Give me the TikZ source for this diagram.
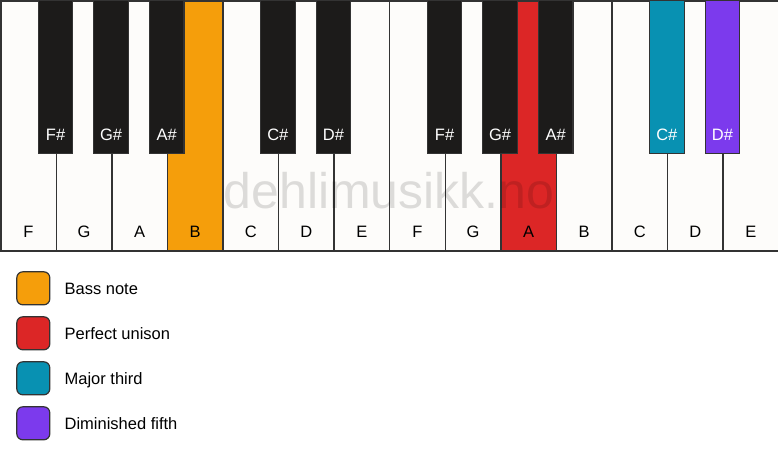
\documentclass[tikz,border=0pt]{standalone}
\usepackage{fontspec}
\setmainfont{Liberation Sans}
\usetikzlibrary{positioning}
\usetikzlibrary{calc}
\definecolor{keywhite}{HTML}{FDFCFA}
\definecolor{keyblack}{HTML}{1C1B1A}
\definecolor{keyline}{HTML}{333333}
\definecolor{bassnote}{HTML}{F59E0B}
\definecolor{unison}{HTML}{DC2626}
\definecolor{third}{HTML}{0891B2}
\definecolor{fifth}{HTML}{7C3AED}
\def\wkey{55.57}
\def\bkey{34.6}

\tikzset{
  whitekey/.style={draw=keyline, line width=1.5pt, rectangle, anchor=north west,
    minimum width=\wkey pt, minimum height=250pt, inner sep=0pt},
  blackkey/.style={draw=keyline, line width=1.2pt, rectangle, anchor=north,
    minimum width=\bkey pt, minimum height=153pt, inner sep=0pt},
  keytext/.style={font=\fontsize{16.5}{19}\selectfont, inner sep=0pt, anchor=base},
  legendbox/.style={draw=keyline, line width=1.2pt, rectangle, rounded corners=6pt,
    minimum size=33pt, inner sep=0pt},
  legendtext/.style={font=\fontsize{16.5}{19}\selectfont, inner sep=0pt, anchor=base west},
  watermark/.style={font=\fontsize{50}{50}\selectfont, text=black, text opacity=0.13,
    inner sep=0pt, anchor=base}
}

\begin{document}
\begin{tikzpicture}[x=1pt, y=1pt]

\useasboundingbox (0, 0) rectangle (778, -461);

% white keys
\foreach \name/\col [count=\i from 0] in {F/keywhite, G/keywhite, A/keywhite, B/bassnote,
    C/keywhite, D/keywhite, E/keywhite, F/keywhite, G/keywhite, A/unison,
    B/keywhite, C/keywhite, D/keywhite, E/keywhite} {
  \node[whitekey, fill=\col] (w\i) at (\i*\wkey, 0) {};
  \node[keytext] (wl\i) at ([yshift=14pt]w\i.south) {\name};
}

% watermark
\node[watermark] (brand) at (389, -208) {dehlimusikk.no};

% black keys
\foreach \b/\name/\col in {1/F\#/keyblack, 2/G\#/keyblack, 3/A\#/keyblack,
    5/C\#/keyblack, 6/D\#/keyblack, 8/F\#/keyblack, 9/G\#/keyblack,
    10/A\#/keyblack, 12/C\#/third, 13/D\#/fifth} {
  \node[blackkey, fill=\col] (b\b) at (\b*\wkey, 0) {};
  \node[keytext, text=white] (bl\b) at ([yshift=14pt]b\b.south) {\name};
}

% legend
\foreach \col/\txt [count=\j from 0] in {bassnote/Bass note, unison/Perfect unison,
    third/Major third, fifth/Diminished fifth} {
  \node[legendbox, fill=\col] (lg\j) at (33.3, {-288.3-45*\j}) {};
  \node[legendtext] (lt\j) at ([xshift=14pt, yshift=-6.5pt]lg\j.east) {\txt};
}
\end{tikzpicture}
\end{document}
